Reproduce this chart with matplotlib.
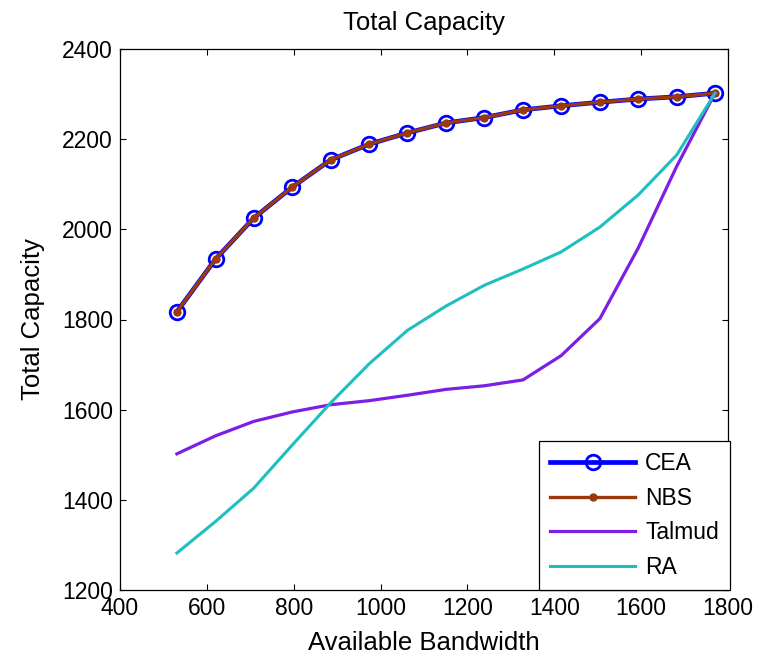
import numpy as np
import matplotlib.pyplot as plt

plt.rcParams['font.family'] = ['Liberation Sans', 'DejaVu Sans']

tick_size = 16.5
label_size = 18.5
legend_font = 16.5

# Available bandwidth (x) for every sample
bandwidth = [531, 620, 708, 797, 885, 974, 1062, 1151, 1239, 1328, 1416, 1505, 1593, 1682, 1770]

# Total capacity per scheme
cea = [1817, 1934, 2025, 2094, 2154, 2189, 2214, 2236, 2248, 2265, 2274, 2282, 2289, 2294, 2302]
nbs = [1817, 1934, 2025, 2094, 2154, 2189, 2214, 2236, 2248, 2265, 2274, 2282, 2289, 2294, 2302]
talmud = [1502, 1542, 1574, 1595, 1611, 1620, 1632, 1645, 1653, 1666, 1720, 1802, 1958, 2140, 2302]
ra = [1282, 1352, 1426, 1522, 1615, 1702, 1776, 1830, 1876, 1912, 1950, 2005, 2076, 2165, 2302]

x_ticks = [400, 600, 800, 1000, 1200, 1400, 1600, 1800]
y_ticks = [1200, 1400, 1600, 1800, 2000, 2200, 2400]

fig = plt.figure(figsize=(7.58, 6.58), dpi=100)
ax1 = fig.add_axes([120 / 758, 68 / 658, 608 / 758, 541 / 658])

ax1.plot(bandwidth, cea, color='#0000ff', lw=3.4, marker='o', ms=10.5,
         mfc='none', mec='#0000ff', mew=2.0, label='CEA')
ax1.plot(bandwidth, nbs, color='#9c3a0c', lw=2.4, marker='o', ms=5,
         mfc='#9c3a0c', mec='#9c3a0c', label='NBS')
ax1.plot(bandwidth, talmud, color='#7d1ee6', lw=2.3, label='Talmud')
ax1.plot(bandwidth, ra, color='#1fbfbf', lw=2.2, label='RA')

ax1.set_xlim(400, 1800)
ax1.set_ylim(1200, 2400)
ax1.set_xticks(x_ticks)
ax1.set_yticks(y_ticks)
ax1.tick_params(labelsize=tick_size, direction='in', length=4.5, width=0.8,
                top=True, right=True, pad=5)
for s in ax1.spines.values():
    s.set_linewidth(0.9)

ax1.set_xlabel('Available Bandwidth', fontsize=label_size, labelpad=8)
ax1.set_ylabel('Total Capacity', fontsize=label_size, labelpad=12)
ax1.set_title('Total Capacity', fontsize=label_size, pad=14)

leg = ax1.legend(loc='lower right', bbox_to_anchor=(1.004, 0), borderaxespad=0,
                 fontsize=legend_font, handlelength=3.7, handletextpad=0.45,
                 labelspacing=0.5, borderpad=0.5, fancybox=False,
                 framealpha=1.0, edgecolor='k')
leg.get_frame().set_linewidth(0.9)

plt.savefig('out.png', dpi=100)
plt.close()
